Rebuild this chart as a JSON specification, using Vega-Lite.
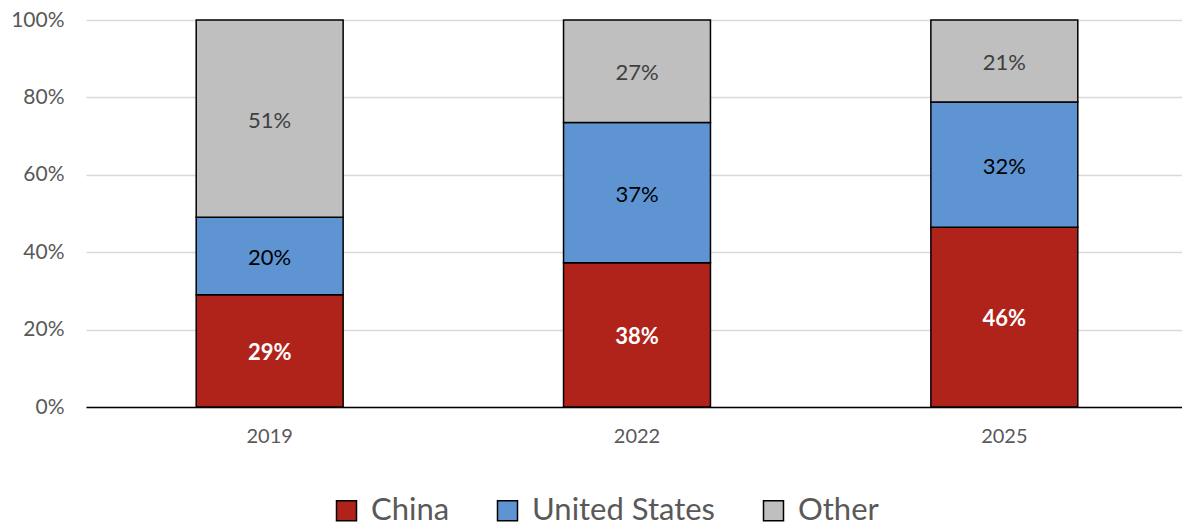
{
  "$schema": "https://vega.github.io/schema/vega-lite/v6.json",
  "width": 1102,
  "height": 387,
  "autosize": "none",
  "padding": {"left": 86, "top": 20, "right": 0, "bottom": 120},
  "background": "white",
  "config": {"view": {"stroke": null}, "font": "Lato"},
  "data": {
    "values": [
      {"year": "2019", "region": "China", "share": 29, "label": "29%", "ord": 1},
      {"year": "2019", "region": "United States", "share": 20, "label": "20%", "ord": 2},
      {"year": "2019", "region": "Other", "share": 51, "label": "51%", "ord": 3},
      {"year": "2022", "region": "China", "share": 38, "label": "38%", "ord": 1},
      {"year": "2022", "region": "United States", "share": 37, "label": "37%", "ord": 2},
      {"year": "2022", "region": "Other", "share": 27, "label": "27%", "ord": 3},
      {"year": "2025", "region": "China", "share": 46, "label": "46%", "ord": 1},
      {"year": "2025", "region": "United States", "share": 32, "label": "32%", "ord": 2},
      {"year": "2025", "region": "Other", "share": 21, "label": "21%", "ord": 3}
    ]
  },
  "encoding": {
    "x": {
      "field": "year", "type": "nominal",
      "scale": {"paddingInner": 0.6, "paddingOuter": 0.3},
      "axis": {"title": null, "labelAngle": 0, "labelFontSize": 20, "labelColor": "#595959", "labelPadding": 19, "ticks": false, "domainColor": "#000000", "domainWidth": 1.5, "grid": false}
    },
    "order": {"field": "ord", "type": "quantitative"}
  },
  "layer": [
    {
      "mark": {"type": "bar", "stroke": "#000000", "strokeWidth": 1.5},
      "encoding": {
        "y": {
          "field": "share", "type": "quantitative", "stack": "normalize",
          "scale": {"domain": [0, 1]},
          "axis": {"title": null, "format": ".0%", "values": [0, 0.2, 0.4, 0.6, 0.8, 1], "labelFontSize": 21, "labelColor": "#595959", "labelPadding": 22, "ticks": false, "domain": false, "gridColor": "#D9D9D9", "gridWidth": 1.5}
        },
        "color": {
          "field": "region", "type": "nominal",
          "scale": {"domain": ["China", "United States", "Other"], "range": ["#B0231A", "#5F94D3", "#BFBFBF"]},
          "legend": {
            "title": null, "orient": "none", "direction": "horizontal",
            "legendX": 245, "legendY": 475,
            "symbolType": "square", "symbolSize": 400, "symbolStrokeColor": "#000000", "symbolStrokeWidth": 1.5,
            "labelFontSize": 31, "labelColor": "#595959", "labelOffset": 9, "labelLimit": 400, "columnPadding": 42, "symbolOpacity": 1
          }
        }
      }
    },
    {
      "mark": {"type": "text", "fontSize": 22, "fontWeight": "bold", "color": "#FFFFFF", "dy": 2},
      "encoding": {
        "y": {"field": "share", "type": "quantitative", "stack": "normalize", "bandPosition": 0.5},
        "text": {"condition": {"test": "datum.region === 'China'", "field": "label"}, "value": ""}
      }
    },
    {
      "mark": {"type": "text", "fontSize": 22, "dy": 2},
      "encoding": {
        "y": {"field": "share", "type": "quantitative", "stack": "normalize", "bandPosition": 0.5},
        "text": {"condition": {"test": "datum.region !== 'China'", "field": "label"}, "value": ""},
        "color": {
          "field": "region", "type": "nominal",
          "scale": {"domain": ["China", "United States", "Other"], "range": ["#FFFFFF", "#000000", "#404040"]},
          "legend": null
        }
      }
    }
  ],
  "resolve": {"scale": {"color": "independent"}}
}
